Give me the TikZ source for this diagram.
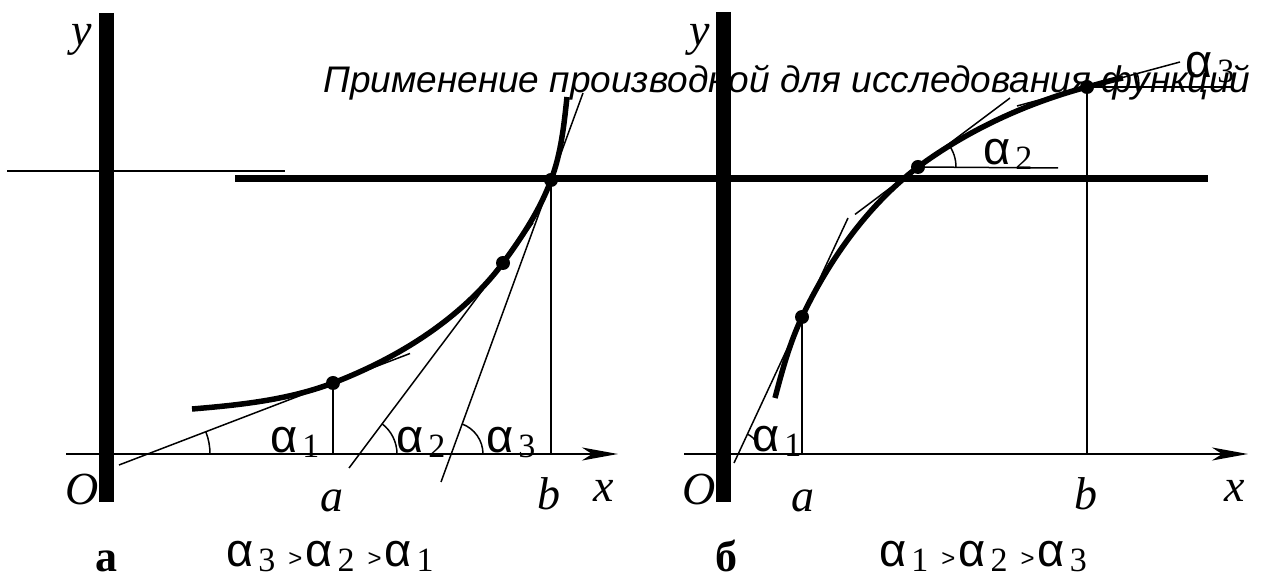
\documentclass[tikz,border=0pt]{standalone}
\usepackage{fontspec}
\setmainfont{Liberation Serif}
\newfontfamily\arial{Liberation Sans}
\usetikzlibrary{arrows.meta}

\newcommand{\al}[1]{{\arial α}\hspace{5pt}\raisebox{-5pt}{\fontsize{34}{34}\selectfont #1}}
\newcommand{\grt}{\hspace{13pt}{\arial\fontsize{24}{24}\selectfont >}\hspace{3pt}}

\begin{document}
\begin{tikzpicture}[x=1pt, y=1pt, >={Stealth[length=36pt, width=13pt, inset=10pt]},
  thinl/.style={line width=1.5pt},
  axisl/.style={line width=2.5pt, ->},
  bar/.style={line width=15pt},
  curve/.style={line width=5.5pt},
  lbl/.style={anchor=base, inner sep=0pt, font=\fontsize{46}{46}\selectfont\itshape},
  alab/.style={anchor=base west, inner sep=0pt, font=\fontsize{47}{48}\selectfont},
  panel/.style={anchor=base, inner sep=0pt, font=\fontsize{44}{44}\selectfont\bfseries}]

\useasboundingbox (0,0) rectangle (1262,578);

% Title
\node[anchor=base west, inner sep=0pt, font=\arial\itshape\fontsize{37}{38}\selectfont] (title) at (323,485) {Применение производной для исследования функций};

% Common lines
\draw[line width=2.5pt] (7,407) -- (285,407);
\draw[line width=7pt] (235,399) -- (1208,399);

% ---------- Panel a ----------
% Axes
\draw[bar] (106,565) -- (106,76);
\draw[axisl] (66,124) -- (618,124);

% Points
\coordinate (a1) at (333,195);
\coordinate (a2) at (503,315);
\coordinate (a3) at (551,398);

% Curve
\draw[curve] (192,169) .. controls (240,173) and (288,178) .. (a1)
  .. controls (398,220) and (461,259) .. (a2)
  .. controls (522,341) and (540,368) .. (a3)
  .. controls (561,424) and (564,453) .. (567,481);

% Tangents
\draw[thinl] (119,113) -- (410,224.5);
\draw[thinl] (349,110) -- (533,355);
\draw[thinl] (441,96) -- (583,485);

% Verticals
\draw[thinl] (a1) -- (333,124);
\draw[thinl] (a3) -- (551,124);

% Angles
\draw[thinl] (148,124) ++(62,0) arc[start angle=0, end angle=21, radius=62pt];
\draw[thinl] (359,124) ++(38,0) arc[start angle=0, end angle=53, radius=38pt];
\draw[thinl] (451,124) ++(32,0) arc[start angle=0, end angle=70, radius=32pt];

\foreach \p in {a1,a2,a3} \fill (\p) circle (7);

% Labels
\node[alab] (la1) at (270,125) {\al{1}};
\node[alab] (la2) at (396,125) {\al{2}};
\node[alab] (la3) at (486,125) {\al{3}};
\node[lbl] (oa) at (82,73) {O};
\node[lbl] (aa) at (332,66) {a};
\node[lbl] (ba) at (549,68) {b};
\node[lbl] (xa) at (604,76) {x};
\node[lbl] (ya) at (82,532) {y};
\node[panel] (capa) at (106,6) {а};
\node[alab] (fa) at (226,11) {\al{3}\grt\al{2}\grt\al{1}};

% ---------- Panel b ----------
% Axes
\draw[bar] (723,566) -- (723,76);
\draw[axisl] (684,124) -- (1248,124);

% Points
\coordinate (b1) at (802,261);
\coordinate (b2) at (918,411);
\coordinate (b3) at (1087,491);

% Curve
\draw[curve] (775,180) .. controls (782,207) and (790,236) .. (b1)
  .. controls (829,318) and (868,373) .. (b2)
  .. controls (968,448) and (1027,475) .. (b3)
  .. controls (1099,494) and (1111,498) .. (1123,500);

% Tangents
\draw[thinl] (734,115) -- (848,360);
\draw[thinl] (855,363.6) -- (1010,480);
\draw[thinl] (1017,472) -- (1180,516);

% Verticals and horizontals
\draw[thinl] (b1) -- (802,124);
\draw[thinl] (b3) -- (1087,124);
\draw[thinl] (b2) -- (1058,410);
\draw[thinl] (b3) -- (1233,491);

% Angles
\draw[thinl] (738,124) ++(30:22) arc[start angle=30, end angle=65, radius=22pt];
\draw[thinl] (b2) ++(38,0) arc[start angle=0, end angle=37, radius=38pt];
\draw[thinl] (b3) ++(52,0) arc[start angle=0, end angle=15, radius=52pt];

\foreach \p in {b1,b2,b3} \fill (\p) circle (7);

% Labels
\node[alab] (lb1) at (752,126) {\al{1}};
\node[alab] (lb2) at (983,413) {\al{2}};
\node[alab] (lb3) at (1185,500) {\al{3}};
\node[lbl] (ob) at (699,73) {O};
\node[lbl] (ab) at (803,66) {a};
\node[lbl] (bb) at (1086,68) {b};
\node[lbl] (xb) at (1235,76) {x};
\node[lbl] (yb) at (700,532) {y};
\node[panel] (capb) at (726,6) {б};
\node[alab] (fb) at (879,11) {\al{1}\grt\al{2}\grt\al{3}};

\end{tikzpicture}
\end{document}
